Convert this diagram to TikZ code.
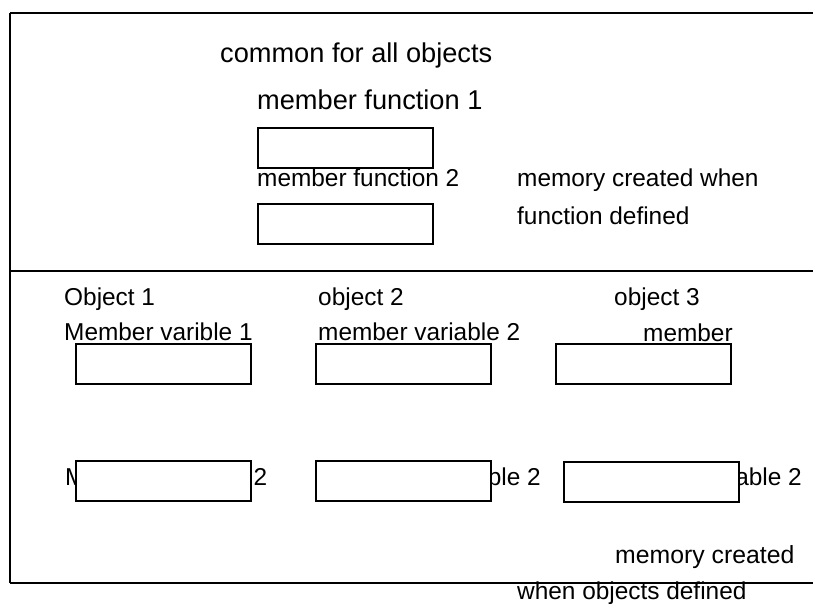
\documentclass[tikz,border=0pt]{standalone}
\usepackage{fontspec}
\setmainfont{Liberation Sans}
\begin{document}
\begin{tikzpicture}[x=1pt,y=-1pt,
  lbl/.style={anchor=base west,inner sep=0pt,font=\fontsize{24.4}{29}\selectfont},
  lblbig/.style={anchor=base west,inner sep=0pt,font=\fontsize{27.2}{32}\selectfont},
  slot/.style={draw=black,fill=white,line width=2pt,rectangle,inner sep=0pt,minimum width=175pt,minimum height=40pt},
  frame/.style={draw=black,line width=2.4pt}]
\useasboundingbox (0,0) rectangle (813,604);
% frame lines
\coordinate (tl) at (10,13);
\coordinate (tr) at (813,13);
\coordinate (bl) at (10,583);
\coordinate (br) at (813,583);
\coordinate (ml) at (10,271);
\coordinate (mr) at (813,271);
% top section texts
\node[lblbig] (common) at (220,63) {common for all objects};
\node[lblbig] (mf1) at (257,110) {member function 1};
\node[lbl] (mf2) at (257,186) {member function 2};
\node[lbl] (memf1) at (517,186) {memory created when};
\node[lbl] (memf2) at (517,224) {function defined};
\node[slot] (box1) at (345.5,148.5) {};
\node[slot] (box2) at (345.5,223.5) {};
% objects
\node[lbl] (ob1) at (64,305) {Object 1};
\node[lbl] (ob2) at (318,305) {object 2};
\node[lbl] (ob3) at (614,305) {object 3};
\node[lbl] (mv1) at (64,340) {Member varible 1};
\node[lbl] (mv2) at (318,340) {member variable 2};
\node[lbl] (mv3) at (643,341) {member};
\node[slot] (a1) at (163,364) {};
\node[slot] (b1) at (403,364) {};
\node[slot] (c1) at (643.5,363.5) {};
% second row (texts covered by boxes)
\node[lbl] (mw1) at (65,485) {Member variable 2};
\node[lbl,anchor=base east] (mw2) at (541,485) {member variable 2};
\node[lbl,anchor=base east] (mw3) at (802,485) {member variable 2};
\node[slot] (a2) at (163.5,480.5) {};
\node[slot] (b2) at (403.5,480.5) {};
\node[slot] (c2) at (651.5,481.5) {};
% bottom texts
\node[lbl,font=\fontsize{24.8}{29}\selectfont] (memo1) at (615,563) {memory created};
\node[lbl] (memo2) at (517,599) {when objects defined};
% lines
\draw[frame] (tl) -- (tr);
\draw[frame,line width=2pt] (tl) -- (bl);
\draw[frame,line width=2.6pt] (bl) -- (br);
\draw[frame,line width=1.5pt] (ml) -- (mr);
\end{tikzpicture}
\end{document}
